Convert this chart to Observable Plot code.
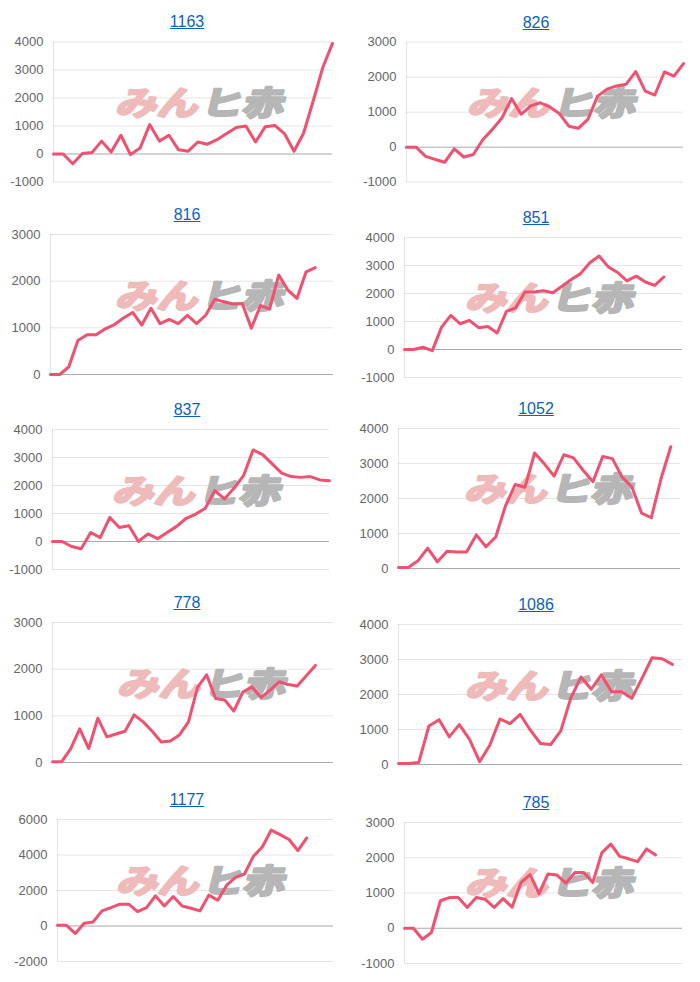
<!DOCTYPE html>
<html><head><meta charset="utf-8">
<script src="https://cdn.jsdelivr.net/npm/d3@7"></script>
<script src="https://cdn.jsdelivr.net/npm/@observablehq/plot@0.6"></script>
<style>
body{margin:0;background:#fff;font-family:"Liberation Sans",Arial,sans-serif;}
#wrap{position:relative;width:700px;height:982px;overflow:hidden;}
.cell{position:absolute;}
.cell svg{position:absolute;left:0;top:0;}
.title{position:absolute;font-size:16px;line-height:18px;color:#0a5fc4;text-decoration:underline;transform:translateX(-50%);white-space:nowrap;}
</style></head><body><div id="wrap"></div>
<script>
// ---- data ----
const titles = ["1163","826","816","851","837","1052","778","1086","1177","785"];
const labelCounts = [30,30,32,31,30,30,32,29,32,32];
const s1163 = [0,0,-350,20,50,460,70,670,-20,210,1050,460,670,150,100,430,350,510,730,950,1000,430,970,1020,730,100,750,1900,3100,3950];
const s826 = [0,0,-260,-350,-430,-50,-280,-210,220,510,840,1390,940,1180,1270,1150,960,600,540,800,1460,1660,1750,1800,2160,1600,1490,2150,2030,2390];
const s816 = [0,0,160,730,850,850,980,1070,1210,1330,1060,1420,1090,1180,1090,1270,1090,1270,1610,1560,1510,1520,990,1480,1400,2130,1810,1630,2200,2290];
const s851 = [0,0,80,-40,800,1220,920,1040,780,820,590,1360,1490,2050,2050,2100,2030,2260,2500,2710,3100,3340,2950,2750,2450,2620,2410,2290,2590];
const s837 = [0,0,-180,-260,320,140,860,500,560,0,270,100,320,540,830,980,1190,1820,1520,1900,2350,3270,3100,2770,2440,2320,2290,2320,2200,2170];
const s1052 = [30,30,220,580,190,490,470,470,960,620,900,1790,2400,2320,3300,2990,2640,3250,3160,2800,2480,3200,3140,2610,2330,1580,1450,2570,3480];
const s778 = [15,15,290,720,300,950,550,610,670,1020,870,670,440,460,590,870,1610,1880,1370,1340,1100,1510,1620,1390,1550,1730,1670,1640,1860,2080];
const s1086 = [30,30,60,1100,1280,790,1140,720,80,550,1300,1170,1430,980,600,570,960,1910,2500,2150,2560,2080,2080,1890,2460,3050,3020,2860];
const s1177 = [40,40,-420,150,230,850,1040,1230,1230,810,1040,1700,1130,1660,1130,1000,850,1740,1450,2300,2740,2930,3920,4450,5400,5150,4870,4250,4960];
const s785 = [0,0,-310,-120,780,870,870,590,870,820,590,840,600,1300,1520,980,1540,1510,1280,1580,1580,1300,2140,2390,2040,1970,1890,2250,2080];
const seriesList = [s1163,s826,s816,s851,s837,s1052,s778,s1086,s1177,s785];
const yMins = [-1000,-1000,0,-1000,-1000,0,0,0,-2000,-1000];
const yMaxs = [4000,3000,3000,4000,4000,4000,3000,4000,6000,3000];
const ySteps = [1000,1000,1000,1000,1000,1000,1000,1000,2000,1000];

// ---- layout ----
const cells = [[0,0],[345,0],[0,195],[345,195],[0,390],[345,390],[0,585],[345,585],[0,780],[345,780]];
// [left, right, top, bottom] of plot area, cell-relative
const boxes = [[53,332,41.5,181.5],[61,338,41.7,181.7],[50,333,39,179],[59,337,42,182],[52,329,39,179],
               [53,335,38,178],[52,333,37,177],[53,337,39,179],[57,333,39,181],[59,337,42,183]];
const titleY = [22,23,20,23,20,19,18,20,20,23];
const wmPos = [[118,87],[125,87],[118,85],[123,87],[115,85],[122,83],[120,83],[123,85],[119,85],[123,87]];

const wrap = document.getElementById("wrap");
const LINE = "#f1506f";

seriesList.forEach((s, k) => {
  const [cx, cy] = cells[k];
  const W = cx === 0 ? 345 : 355;
  const H = k >= 8 ? 202 : 195;
  const [L, R, T, B] = boxes[k];
  const cell = document.createElement("div");
  cell.className = "cell";
  cell.style.left = cx + "px"; cell.style.top = cy + "px";
  cell.style.width = W + "px"; cell.style.height = H + "px";
  wrap.appendChild(cell);

  const data = s.map((v, i) => ({i, v}));
  const ticks = d3.range(yMins[k], yMaxs[k] + 1, ySteps[k]);
  const chart = Plot.plot({
    width: W, height: H,
    marginLeft: L, marginRight: W - R, marginTop: T, marginBottom: H - B,
    style: {fontFamily: "Liberation Sans, Arial, sans-serif", fontSize: "13px", color: "#666", background: "transparent", overflow: "visible"},
    x: {domain: [0, labelCounts[k] - 1], axis: null},
    y: {domain: [yMins[k], yMaxs[k]], label: null},
    marks: [
      Plot.gridY(ticks, {stroke: "#000", strokeOpacity: 0.1, strokeWidth: 1}),
      Plot.ruleY([0], {stroke: "#000", strokeOpacity: 0.25, strokeWidth: 1}),
      Plot.ruleX([0], {stroke: "#000", strokeOpacity: 0.1, strokeWidth: 1}),
      Plot.axisY(ticks, {tickSize: 0, tickPadding: 10, fontSize: 13, fill: "#666", tickFormat: d => String(d), label: null}),
      Plot.line(data, {x: "i", y: "v", stroke: LINE, strokeWidth: 3, strokeLinejoin: "round", strokeLinecap: "round"})
    ]
  });
  cell.appendChild(chart);

  // watermark, behind the line
  const [wx, wy] = wmPos[k];
  const svg = d3.select(chart);
  const g = svg.insert("g", 'g[aria-label="line"]')
    .attr("transform", `translate(${wx - 3},${wy + 28}) skewX(-14) scale(1.25,1)`)
    .attr("text-anchor", "start")
    .style("font-family", "'Noto Sans CJK JP', sans-serif")
    .style("font-weight", "bold")
    .style("font-size", "33px");
  g.append("text").attr("x", 0).attr("y", 0).attr("fill", "#efbaba").attr("stroke", "#efbaba").attr("stroke-width", 2.5).attr("stroke-linejoin", "round").text("みん");
  g.append("text").attr("x", 68).attr("y", 0).attr("fill", "#b6b6b6").attr("stroke", "#b6b6b6").attr("stroke-width", 2.5).attr("stroke-linejoin", "round").text("ヒ赤");

  const t = document.createElement("div");
  t.className = "title";
  t.textContent = titles[k];
  t.style.left = (cx === 0 ? 187 : 191) + "px";
  t.style.top = (titleY[k] - 9) + "px";
  cell.appendChild(t);
});
</script>
</body></html>
